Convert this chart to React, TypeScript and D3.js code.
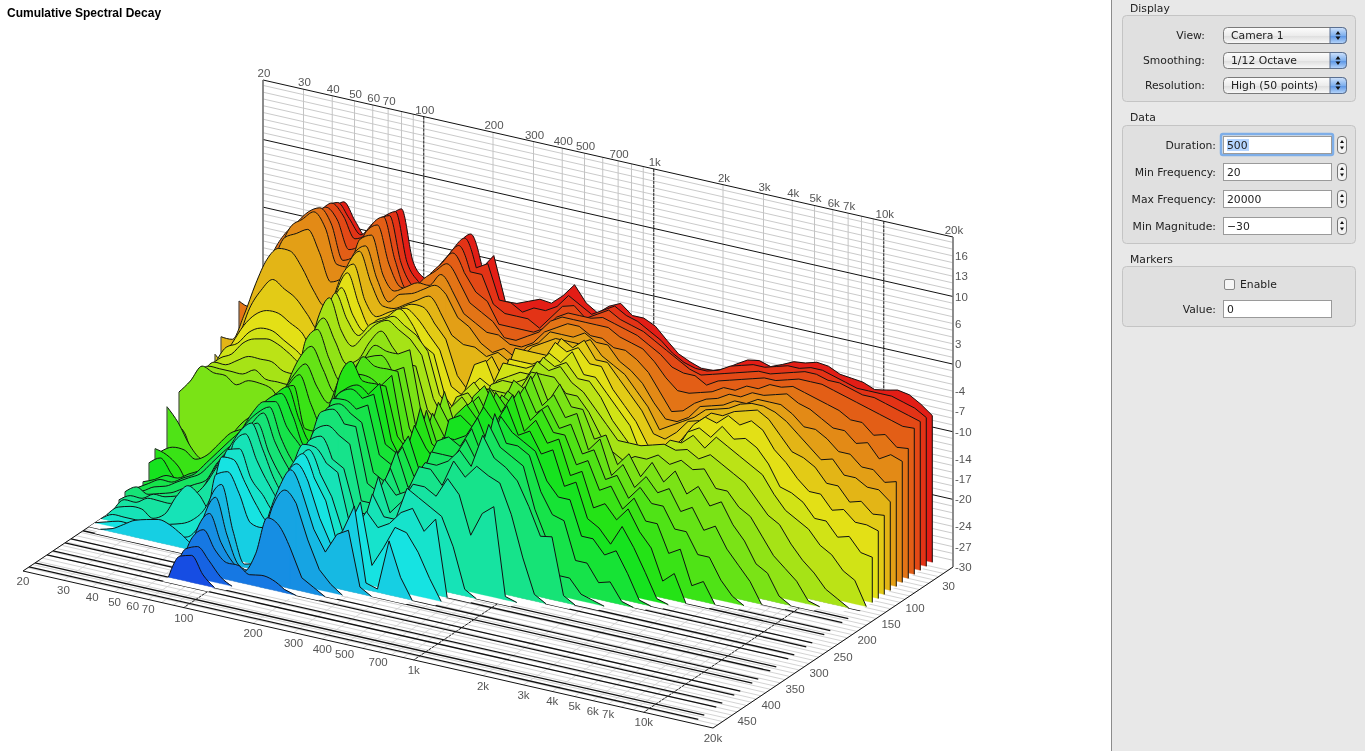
import React from "react";
import * as d3 from "d3";

// Frequencies of the measured points (Hz)
const frequencies = [20,22.4,25.2,28.3,31.7,35.6,40,44.9,50.4,56.6,63.5,71.3,80,89.8,100.8,113.1,127,142.5,160,179.6,201.6,226.3,254,285.1,320,359.2,403.2,452.5,508,570.2,640,718.4,806.3,905.1,1016,1140,1280,1437,1613,1810,2032,2281,2560,2874,3225,3620,4064,4561,5120,5747,6451,7241,8127,9123,10240,11494,12902,14482,16256];

// Level above the -30 dB floor, one list per frequency; each list runs through the slices (12.5 ms apart)
const levelsLow = [
[15.7,15,15,16,18.5,12,13,15,13,9,9,9,10,9,11,7,10,4,5,3.5,1.3,1,1,1.6,1],
[17,17,17,18,18,14,15,15,12,13,13,13,13,13,13,6,8,5,4.5,4.6,2,2,1.5,2.7,2,2,1.5,1,0.5],
[20,20,21,22,22,19,18,19,16,16,16,15,15,15,15.6,2,5,5,3.2,2.5,3,3,2.5,2,2,2,2,1,1,0.5],
[23,24,25,26,27,23,23,24,21,19,17,16,15,15,15,2,3.4,4,1,1,3,3,3,2.5,3,3,2,1,1,1.5],
[26,27,28,29,30,28,27,28,24,21,19,18,16,15,15,3,3.4,5,2,2,4,4,4,3,3,3,1,1,1,2.5],
[30,30.5,31,32,32,32,31,30,26,22,20,19,17,15,14,3,6,7,4,4,5,5,5,4,3.5,3,2,1,0.5,3],
[32,33,33,33,34,33.5,32,30,25,22,20,19.4,17,16,15,4,9,9,6,6,7,7,6,5,4,4,5,1.5,0.5,3.4],
[33.5,34,34.5,34.5,35,35,33,28,24,21,19,19,17,15,15,5,11,10,8,8,9,9,8,6,5,5,7,2,0.5,3],
[31,32,33,33,33,33,30,25,22,20,18,18,16,15,14.6,7,12,11,10,10,11,11,10,9,8,7,6,3,1,2],
[29,30,30,29,28,28,26,23,20,18,17,17,16,15,13,11,13,13,12,13,13,13,12,11,11,10,4,5,3,1],
[31.5,32,31,30,29,28,27,25,24,21,20,19,18,17,15,17,16,15,15,16,16,16,15,13,13,13,7,9,7,3,1],
[33,33.5,33.5,33.5,33,32.5,31,30,29,27,25,24,25,23,23,21,19,18,18,18,18,18,17,16,15.5,16,15,14.5,14,12,9,7,6,5,4,3.5],
[34.4,34.6,34.6,35,34.4,33.5,32.5,32.3,31,30.3,28.7,28.5,28.4,26,24.9,23,21,20,19,19.4,19,18.4,18.2,17.9,17,17.6,16.6,15,14,12.8,11.5,10.2,8.4,6.6,4.7,4],
[27,27.5,28,29,29,28,28,28,26,26,25,25,24,23,21,20,18,16,13,15,16,15,14,14,13,14,13,11,11,10,5,5,4.5,4,3,1.5],
[24.9,25,25,25,26,26,25,25,24,23,23,23,22,20,18,17,16,13,13,12,12,13,11,11,10,10,10,9,8,6,0.5,1,2,2.5,1],
[24.5,24,24.5,25,26,27,26.5,25,25,24,25,25,24,21,19,18,20,15,15,13,12,11,10,9,8,8,8,7,6,5.7,1,0.5,1,2.5],
[28.4,28,28,28,28,28,27,26,26,26,26,26,26,24,22,22,21,21,22,19,17,15,14,15,13,12,13,11,11,9,8,5,4,1.5],
[31.3,31,30.5,30,29.5,28,28,27,27,27,27.5,27,27,26,24.5,23.4,24,22,24.5,21,21,20.8,20,20,18,17,17,15,15,14,13,11,9.7,1.8],
[33,33,32.5,32,31,30,29,28,27,26,26,26,26,24,24,24,23,22,22,22,22,21,21,20.8,19,18,17,17.2,17.2,16.3,16,13.6,9,1.5],
[28.4,29,29,29.5,29,28,28,26,25,24,23,25,25,22,24,22,23,21,22,21,21,20,20,19,18,15,15,14,14,14,13,12,6,0.5],
];
const levelsMid = [
[30.6,30,29,27,26,25,25,23,23,22,22,23,23,22,25,23,23,23,22,23,22,21,19,19,17,14,14,11,11,9,8,7,2],
[24.2,25,25,26,25,24,24,22,18,17,16,17,17,16,16,15,15,14,15,15,15,14,12,11,9,8,7,6,5,5.4,5,3,1],
[24.3,25,24,23,24,23,22,22,16,16,14,15,14,14,14,13,12,12,13,12,14,13,11,10,9,8,6,7,8,8,8,1.2],
[25,24,24,23,22,23,21,21,20,21,18,18,18,17,20,19,18,19,20,18,17,16,16,14,13,14,12,10,12,12,9],
[25.7,25,24,23,22,22,22,22,22,22,20,20,19,19,15,16,15,14,15,15,12,12,11,10,11,9,9,8,3,1,1],
[25.5,25,23,23,23,22,21,21,19,18,19,18,17,17,15,15,14,14,14,13,14,14,12,13,12,11,9,9,6,0.5],
[27,26,25,24,24,23,23,22,24,23,23,21,21,21,21,21,20,20,20,20,18,18,17,16,16,14,14,11,9.4,8],
[29,28,27,26,26,25,24,24,24,23,23,22,22,21,22,23,22,22,22,21,18,19,17,16,16,14,13,12,9,3],
[26.7,27,27.5,27,27,26,26,25,24,23,23,23,22,21,20,20,19,19,20,19.7,19,18,17,17,14,13,12,9,6.5],
[25.6,26,26,27,27,27,26,26,24,24,24,23,23,22,24,23,23,24,25,23,22,21,20,19,18,16,11,11.2,3],
[27,27,27,27,27,27,26,26,27,27,26,26,26,25,23,22,22,22,22,21,18,17,17,17,16,14,6.9],
[27.8,28,28,27.5,27,26,27,26,26,26,25,25,25,25,26,26,25,25,25,24,23,24,23,22,18,8.4,1],
[26.4,27,27,27,27,26,26,27,27.5,27,27,26,26,25,22,22,21.5,21,20,20,21,20,20,19,17,12],
[26.4,26.5,26.5,26.5,26,25,26,25,25,25,24,24,24,23,25,24,23,23,22,21,20,20,19,18,16.3,13.4],
[25.6,25.5,26,26,25.5,25,24,24,25,25,24,24,23,23,22,21,20,20,19,18,19,19,18,16.4,12,0.5],
[23.9,24.5,25,25,25,24,23,23,23,22,22,22,21,21,22,22,21,20,20,19,15,14,12,13,6],
[22.3,23,24,24,23.5,22.5,21.5,21,21,20,20,19,19,18,18,17,17,16,15,14,13,11,8,9,1],
[21.5,22,23,22.5,21.5,20,19,19,19,18,18,17,17,16,19,19,18,17,16,15,13,10.5,3,9.3],
[20.9,21.5,22,22,20,17.5,17,16,16,15,14,15,17,15,15,14,14,13,11,10,8,5,3,1],
[21,21.5,21.5,22,20,18,17,17,15.6,14,13,16,17,16,17,16,15,14,12,9,8,5,1],
];
const levelsHigh = [
[21.6,22,22,21,20.5,19.5,18,18,17,15,12.7,16,17.5,16,14,13,12,11,10,7,6,2.5,0.5],
[22.7,23,22.5,22,21,20.5,20,19,19,17,16,18,18,17,16.5,15,14,13,12,10,7,3],
[23.7,23.5,23,22.5,22,21,20.5,20.5,19.5,19.5,19,18,17.5,16,14,13,12,10,9,7.3,4,0.5],
[24,24,23.5,23,22,22,21,21,21,21,20,19.5,18,17,16,14,12,10,7,4,0.5],
[23.5,24,24,23.5,23,22,22,21.5,21,20.5,19,18,17,16,13,11,9,6,2.5,0.5],
[24.2,24.5,24,24,23,23,22,22.5,22,22,21,20,18,16.5,14.5,12,9,7,4],
[25,25,24.5,24,24,23,23,23,22.5,21,19.5,19,17,14,12,9,6,2],
[25.2,25,25,24.5,24,23.5,23,23,23,22,20,18,16,14,13,10,6,3],
[25.7,25.5,25.5,25,24.5,24,23,22.5,22,21,19,17,15,12,10,7,3],
[25.5,25.5,25.5,25,24,23,22,21.5,20,18.5,17,16,13,11,8,5,1],
[24.7,25,25,25,23.5,22.5,20.5,20,18,17,14,13.5,11,8.5,5,3],
[24.5,24.5,25,24.5,23,21.5,20.5,18.5,17.5,15,13.5,11.5,10,6,4],
[24.3,24,24.5,24,22.5,20.5,19.5,17,16.5,13.5,12.5,10.5,7.5,4.5,1],
[23.6,24,24,23.5,21.5,20.5,18,17.5,14.5,13.5,10.5,9.5,5.5,3],
[23.9,24,24,23,21.5,19,18,15.5,14.5,11.5,10.5,7.5,4,0.5],
[24.3,24,23.5,22.5,20,19.5,16.5,15.5,12.5,12,8.5,6.5,2],
[24,23.5,23,22,20.5,17.5,16.5,14.5,13,10.5,9,4.5,1],
[23,23,22.5,21.5,19,18.5,15,14.5,11.5,10.5,7,3.5],
[21.7,22,22,21.6,19.2,17.9,15.5,13.1,11.7,10,6.7],
];
const levelsByFrequency = [...levelsLow, ...levelsMid, ...levelsHigh];

const sliceCount = 36;
const sliceStepMs = 12.5;
// Slices whose floor-level trace stays visible
const floorTraceSlices = [12,14,15,17,18,20,21,23,24,26,27,29,30,32,33,35,36,38,39];

const gridFrequencies = [20,30,40,50,60,70,80,90,100,200,300,400,500,600,700,800,900,1000,2000,3000,4000,5000,6000,7000,8000,9000,10000,20000];
const decadeFrequencies = [100,1000,10000];
const frequencyLabels: [number,string][] = [[20,"20"],[30,"30"],[40,"40"],[50,"50"],[60,"60"],[70,"70"],[100,"100"],[200,"200"],[300,"300"],[400,"400"],[500,"500"],[700,"700"],[1000,"1k"],[2000,"2k"],[3000,"3k"],[4000,"4k"],[5000,"5k"],[6000,"6k"],[7000,"7k"],[10000,"10k"],[20000,"20k"]];
const magnitudeLabels = [16,13,10,6,3,0,-4,-7,-10,-14,-17,-20,-24,-27,-30];
const magnitudeMajors = [10,0,-10,-20];
const magnitudeMinors = [18,17,16,15,14,13,12,11,9,8,7,6,5,4,3,2,1,-1,-2,-3,-4,-5,-6,-7,-8,-9,-11,-12,-13,-14,-15,-16,-17,-18,-19,-21,-22,-23,-24,-25,-26,-27,-28,-29];
const timeLabels = [30,100,150,200,250,300,350,400,450];
const timeGrid = [10,20,30,40,50,60,70,80,90,100,110,120,130,140,150,160,170,180,190,200,210,220,230,240,250,260,270,280,290,300,310,320,330,340,350,360,370,380,390,400,410,420,430,440,450,460,470,480,490];

const FLOOR = -30, TOP = 18.8;
const uScale = d3.scaleLog().domain([20, 20000]).range([0, 1]);
const tScale = d3.scaleLinear().domain([0, 500]).range([0, 1]);
const mScale = d3.scaleLinear().domain([FLOOR, TOP]).range([0, 330]);
const hueScale = d3.scaleLinear().domain([0, 35]).range([2, 224]);
const X0 = 263, Y0 = 410, DXF = 690, DYF = 157, DXT = -240, DYT = 161;
const px = (f: number, t: number) => X0 + DXF * uScale(f) + DXT * tScale(t);
const py = (f: number, t: number, m = FLOOR) => Y0 + DYF * uScale(f) + DYT * tScale(t) - mScale(m);

const sliceColor = (k: number) => d3.hsl(hueScale(k), 0.82, 0.49).formatHex();
const lev = (j: number, k: number) => (levelsByFrequency[j][k] ?? 0);

type Pt = { f: number; j: number };
const pts: Pt[] = frequencies.map((f, j) => ({ f, j }));
const ptsRound = pts.slice(0, 20);   // smooth low end
const ptsSharp = pts.slice(19);      // polyline from here up

function Slice({ k }: { k: number }) {
  const t = k * sliceStepMs;
  const active = (p: Pt) => lev(p.j, k) > 0 || (p.j > 0 && lev(p.j - 1, k) > 0) || (p.j < pts.length - 1 && lev(p.j + 1, k) > 0);
  const fx = (p: Pt) => px(p.f, t);
  const fy = (p: Pt) => py(p.f, t, FLOOR + lev(p.j, k));
  const fb = (p: Pt) => py(p.f, t);
  const area = d3.area<Pt>().defined(active).x(fx).y0(fb).y1(fy);
  const line = d3.line<Pt>().defined(active).x(fx).y(fy);
  const band = d3.area<Pt>().defined(active)
    .x0(fx).y0(fb)
    .x1((p) => px(p.f, t + sliceStepMs)).y1((p) => py(p.f, t + sliceStepMs));
  const first = pts[0], last = pts[pts.length - 1];
  const areaD = (area.curve(d3.curveMonotoneX)(ptsRound) || "") + (area.curve(d3.curveLinear)(ptsSharp) || "");
  const lineD = (line.curve(d3.curveMonotoneX)(ptsRound) || "") + (line.curve(d3.curveLinear)(ptsSharp) || "");
  return (
    <g>
      <path d={band(pts) || ""} fill="#fff" />
      <path d={areaD} fill={sliceColor(k)} stroke={sliceColor(k)} strokeWidth={0.3} />
      <path d={lineD} fill="none" stroke="#111" strokeWidth={1} strokeLinejoin="round" />
      {lev(0, k) > 0 && <line x1={fx(first)} x2={fx(first)} y1={fb(first)} y2={fy(first)} stroke="#555" strokeWidth={1.2} />}
      {lev(last.j, k) > 0 && <line x1={fx(last)} x2={fx(last)} y1={fb(last)} y2={fy(last)} stroke="#111" strokeWidth={1} />}
    </g>
  );
}

function Plot() {
  const fmax = 20000, fmin = 20;
  const axisFont = { fontFamily: "'Liberation Sans', Arial, sans-serif", fontSize: 11.5, fill: "#555" };
  return (
    <g>
      {/* back wall */}
      {magnitudeMinors.map((m) => (
        <line key={m} x1={px(fmin, 0)} y1={py(fmin, 0, m)} x2={px(fmax, 0)} y2={py(fmax, 0, m)} stroke="#bdbdbd" strokeWidth={0.8} />
      ))}
      {gridFrequencies.map((f) => (
        <line key={f} x1={px(f, 0)} y1={py(f, 0, TOP)} x2={px(f, 0)} y2={py(f, 0)} stroke="#c4c4c4" strokeWidth={1} />
      ))}
      {decadeFrequencies.map((f) => (
        <line key={f} x1={px(f, 0)} y1={py(f, 0, TOP)} x2={px(f, 0)} y2={py(f, 0)} stroke="#222" strokeWidth={1} strokeDasharray="3 1" />
      ))}
      {magnitudeMajors.map((m) => (
        <line key={m} x1={px(fmin, 0)} y1={py(fmin, 0, m)} x2={px(fmax, 0)} y2={py(fmax, 0, m)} stroke="#111" strokeWidth={1} />
      ))}
      <line x1={px(fmin, 0)} y1={py(fmin, 0, TOP)} x2={px(fmax, 0)} y2={py(fmax, 0, TOP)} stroke="#111" strokeWidth={1} />
      <line x1={px(fmin, 0)} y1={py(fmin, 0, TOP)} x2={px(fmin, 0)} y2={py(fmin, 0)} stroke="#777" strokeWidth={1.6} />
      <line x1={px(fmax, 0)} y1={py(fmax, 0, TOP)} x2={px(fmax, 0)} y2={py(fmax, 0)} stroke="#777" strokeWidth={1.6} />

      {/* floor */}
      {timeGrid.map((t) => (
        <line key={t} x1={px(fmin, t)} y1={py(fmin, t)} x2={px(fmax, t)} y2={py(fmax, t)} stroke="#c8c8c8" strokeWidth={0.8} />
      ))}
      {gridFrequencies.map((f) => (
        <line key={f} x1={px(f, 0)} y1={py(f, 0)} x2={px(f, 500)} y2={py(f, 500)} stroke="#cfcfcf" strokeWidth={0.8} />
      ))}
      {floorTraceSlices.map((k) => (
        <line key={k} x1={px(frequencies[0], k * sliceStepMs)} y1={py(frequencies[0], k * sliceStepMs)}
          x2={px(frequencies[58], k * sliceStepMs)} y2={py(frequencies[58], k * sliceStepMs)} stroke="#111" strokeWidth={1.3} />
      ))}
      {decadeFrequencies.map((f) => (
        <line key={f} x1={px(f, 0)} y1={py(f, 0)} x2={px(f, 500)} y2={py(f, 500)} stroke="#222" strokeWidth={1} strokeDasharray="3 1" />
      ))}
      <line x1={px(fmin, 0)} y1={py(fmin, 0)} x2={px(fmin, 500)} y2={py(fmin, 500)} stroke="#111" strokeWidth={1} />
      <line x1={px(fmax, 0)} y1={py(fmax, 0)} x2={px(fmax, 500)} y2={py(fmax, 500)} stroke="#111" strokeWidth={1} />
      <line x1={px(fmin, 500)} y1={py(fmin, 500)} x2={px(fmax, 500)} y2={py(fmax, 500)} stroke="#111" strokeWidth={1} />

      {d3.range(sliceCount).map((k) => <Slice key={k} k={k} />)}

      {/* labels */}
      <g>
        {frequencyLabels.map(([f, s]) => (
          <text key={"b" + f} x={px(f, 0) + 1} y={py(f, 0, TOP) - 3} textAnchor="middle" {...axisFont}>{s}</text>
        ))}
        {frequencyLabels.map(([f, s]) => (
          <text key={"f" + f} x={px(f, 500)} y={py(f, 500) + 14} textAnchor="middle" {...axisFont}>{s}</text>
        ))}
        {magnitudeLabels.map((m) => (
          <text key={m} x={955} y={py(fmax, 0, m) + 4} textAnchor="start" {...axisFont}>{m}</text>
        ))}
        {timeLabels.map((t) => (
          <text key={t} x={px(fmax, t) + 10} y={py(fmax, t) + 13} textAnchor="middle" {...axisFont}>{t}</text>
        ))}
      </g>
    </g>
  );
}

const uiFont = { fontFamily: "'DejaVu Sans', sans-serif", fontSize: 10.8, fill: "#222" };

function Select({ y, label, value }: { y: number; label: string; value: string }) {
  return (
    <g>
      <text x={1205} y={y + 12} textAnchor="end" {...uiFont}>{label}</text>
      <rect x={1223.5} y={y + 0.5} width={123} height={16} rx={4} fill="url(#sel)" stroke="#7a7a7a" />
      <path d={`M1330 ${y + 0.5}h12.5a4 4 0 0 1 4 4v8a4 4 0 0 1 -4 4h-12.5z`} fill="url(#selBlue)" stroke="#5a6f90" />
      <path d={`M1338 ${y + 4}l-2.5 3.5h5zM1338 ${y + 13}l-2.5 -3.5h5z`} fill="#111" />
      <text x={1231} y={y + 12} {...uiFont}>{value}</text>
    </g>
  );
}

function Field({ y, label, value, stepper = true, h = 17, focus = false }: { y: number; label: string; value: string; stepper?: boolean; h?: number; focus?: boolean }) {
  return (
    <g>
      <text x={1216} y={y + 13} textAnchor="end" {...uiFont}>{label}</text>
      {focus && <rect x={1221} y={y - 2} width={112} height={h + 4} rx={2} fill="none" stroke="#7eaee8" strokeWidth={2.5} />}
      <rect x={1223.5} y={y + 0.5} width={108} height={h} fill="#fff" stroke="#9a9a9a" />
      {focus && <rect x={1227} y={y + 3} width={22} height={12} fill="#b5d5ff" />}
      <text x={1227} y={y + 13} {...uiFont}>{value}</text>
      {stepper && (
        <g>
          <rect x={1337.5} y={y + 0.5} width={9} height={h} rx={3.5} fill="#f4f4f4" stroke="#777" />
          <path d={`M1342 ${y + 4}l-2 3h4zM1342 ${y + h - 3.5}l-2 -3h4z`} fill="#111" />
        </g>
      )}
    </g>
  );
}

function Panel() {
  const box = (y: number, h: number) => <rect x={1122.5} y={y + 0.5} width={233} height={h} rx={4} fill="#e0e0e0" stroke="#c4c4c4" />;
  return (
    <g>
      <rect x={1111} y={0} width={254} height={751} fill="#e8e8e8" />
      <line x1={1111.5} x2={1111.5} y1={0} y2={751} stroke="#8c8c8c" />
      <text x={1130} y={12} {...uiFont}>Display</text>
      {box(15, 86)}
      <text x={1130} y={121} {...uiFont}>Data</text>
      {box(125, 118)}
      <text x={1130} y={263} {...uiFont}>Markers</text>
      {box(266, 60)}
      <Select y={27} label="View:" value="Camera 1" />
      <Select y={52} label="Smoothing:" value="1/12 Octave" />
      <Select y={77} label="Resolution:" value="High (50 points)" />
      <Field y={136} label="Duration:" value="500" focus />
      <Field y={163} label="Min Frequency:" value="20" />
      <Field y={190} label="Max Frequency:" value="20000" />
      <Field y={217} label="Min Magnitude:" value="−30" />
      <rect x={1224.5} y={279.5} width={10} height={10} rx={1.5} fill="#f6f6f6" stroke="#888" />
      <text x={1240} y={288} {...uiFont}>Enable</text>
      <Field y={300} label="Value:" value="0" stepper={false} />
    </g>
  );
}

export default function App() {
  return (
    <svg width={1365} height={751} viewBox="0 0 1365 751" style={{ position: "absolute", left: 0, top: 0, display: "block", willChange: "transform" }}>
      <defs>
        <linearGradient id="sel" x1="0" x2="0" y1="0" y2="1">
          <stop offset="0" stopColor="#fdfdfd" /><stop offset="0.5" stopColor="#ececec" /><stop offset="0.55" stopColor="#dfdfdf" /><stop offset="1" stopColor="#fafafa" />
        </linearGradient>
        <linearGradient id="selBlue" x1="0" x2="0" y1="0" y2="1">
          <stop offset="0" stopColor="#cfe2fb" /><stop offset="0.5" stopColor="#7fb0ee" /><stop offset="0.55" stopColor="#5f98e6" /><stop offset="1" stopColor="#b8d6fa" />
        </linearGradient>
      </defs>
      <text x={7} y={17} fontFamily="'Liberation Sans', Arial, sans-serif" fontSize={12} fontWeight="bold" fill="#000">Cumulative Spectral Decay</text>
      <Plot />
      <Panel />
    </svg>
  );
}
